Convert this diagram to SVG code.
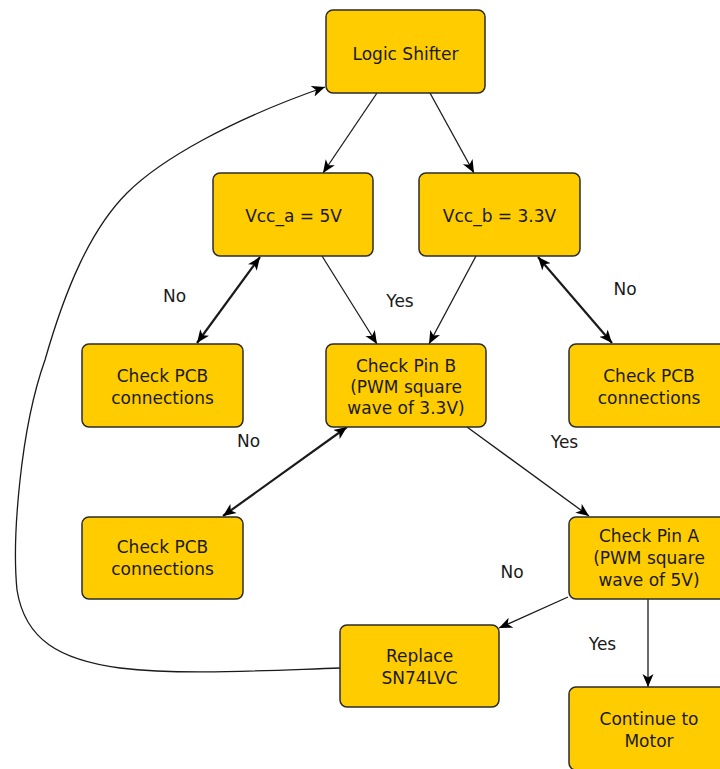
<svg xmlns="http://www.w3.org/2000/svg" width="720" height="769" viewBox="0 0 720 769">
<defs>
<style>
.node rect{fill:#FFCC00;stroke:#2b2b2b;stroke-width:1.5}
text{font-family:"DejaVu Sans","Liberation Sans",sans-serif;font-size:17px;fill:#1a1a1a;text-anchor:middle}
.thin{fill:none;stroke:#1a1a1a;stroke-width:1.3;marker-end:url(#arr)}
.thick{fill:none;stroke:#1a1a1a;stroke-width:2.2;marker-start:url(#arr);marker-end:url(#arr)}
</style>
<marker id="arr" markerUnits="userSpaceOnUse" markerWidth="14" markerHeight="12" refX="13" refY="6" orient="auto-start-reverse">
<path d="M0,0.5 L13,6 L0,11.5 L3.5,6 Z" fill="#000"/>
</marker>
</defs>
<rect width="720" height="769" fill="#fff"/>
<g id="connectors">
<line class="thin" x1="377" y1="93" x2="323" y2="173"/>
<line class="thin" x1="430" y1="93" x2="474" y2="173"/>
<line class="thick" x1="260" y1="257" x2="197" y2="343"/>
<line class="thin" x1="322" y1="256" x2="377" y2="344"/>
<line class="thin" x1="476" y1="256" x2="429" y2="344"/>
<line class="thick" x1="538" y1="257" x2="612" y2="343"/>
<line class="thick" x1="347" y1="427" x2="223" y2="516"/>
<line class="thin" x1="467" y1="427" x2="589" y2="516"/>
<line class="thin" x1="568" y1="597" x2="499" y2="628"/>
<line class="thin" x1="648" y1="599" x2="648" y2="687"/>
<path class="thin" d="M340,668 C250,671 180,675 120,668 C60,660 25,640 17,590 C12,540 20,430 45,360 C65,290 90,230 127,193 C160,160 230,120 325,87"/>
</g>
<g id="labels">
<text x="174.5" y="302">No</text>
<text x="400" y="307">Yes</text>
<text x="625" y="295">No</text>
<text x="248.5" y="447">No</text>
<text x="564.5" y="448">Yes</text>
<text x="512" y="578">No</text>
<text x="602.5" y="650">Yes</text>
</g>
<g id="logic-shifter" class="node"><rect x="326" y="10" width="159" height="83" rx="7"/><text x="405.5" y="60">Logic Shifter</text></g>
<g id="vcc-a" class="node"><rect x="213" y="173" width="160" height="83" rx="7"/><text x="293.5" y="222">Vcc_a = 5V</text></g>
<g id="vcc-b" class="node"><rect x="419" y="173" width="161" height="83" rx="7"/><text x="499.5" y="222">Vcc_b = 3.3V</text></g>
<g id="check-pcb-1" class="node"><rect x="82" y="344" width="161" height="83" rx="7"/><text x="162.5" y="382">Check PCB</text><text x="162.5" y="404">connections</text></g>
<g id="check-pin-b" class="node"><rect x="326" y="344" width="160" height="83" rx="7"/><text x="406" y="372">Check Pin B</text><text x="406" y="393">(PWM square</text><text x="406" y="414">wave of 3.3V)</text></g>
<g id="check-pcb-3" class="node"><rect x="569" y="344" width="160" height="83" rx="7"/><text x="649" y="382">Check PCB</text><text x="649" y="404">connections</text></g>
<g id="check-pcb-2" class="node"><rect x="82" y="517" width="161" height="82" rx="7"/><text x="162.5" y="553">Check PCB</text><text x="162.5" y="575">connections</text></g>
<g id="check-pin-a" class="node"><rect x="569" y="517" width="160" height="82" rx="7"/><text x="649" y="542">Check Pin A</text><text x="649" y="564">(PWM square</text><text x="649" y="586">wave of 5V)</text></g>
<g id="replace" class="node"><rect x="340" y="625" width="159" height="82" rx="7"/><text x="419.5" y="662">Replace</text><text x="419.5" y="684">SN74LVC</text></g>
<g id="continue" class="node"><rect x="569" y="687" width="160" height="83" rx="7"/><text x="649" y="725">Continue to</text><text x="649" y="747">Motor</text></g>
</svg>
